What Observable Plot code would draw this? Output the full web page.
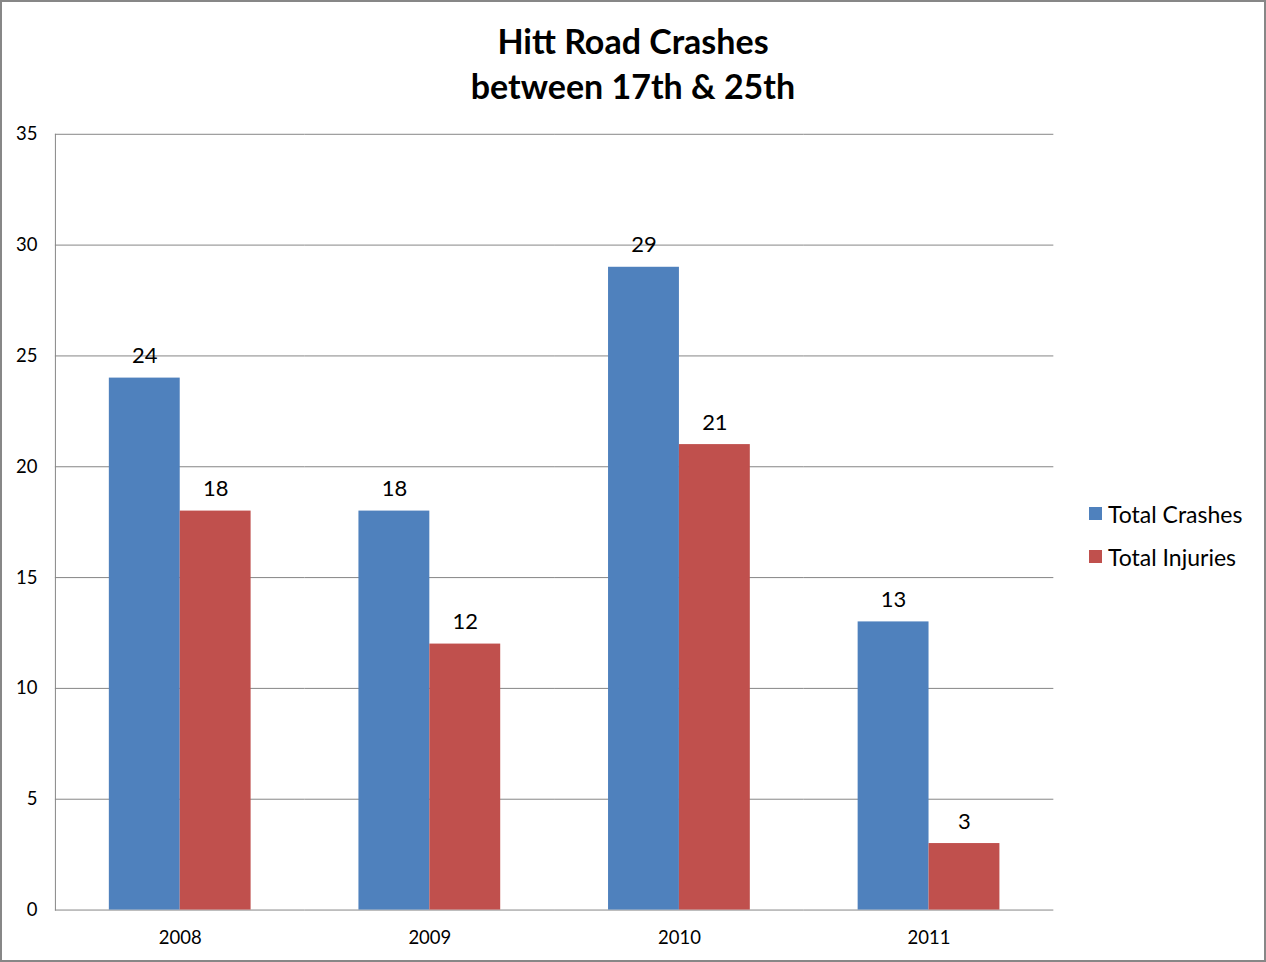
<!DOCTYPE html>
<html><head><meta charset="utf-8">
<script src="https://cdn.jsdelivr.net/npm/d3@7"></script>
<script src="https://cdn.jsdelivr.net/npm/@observablehq/plot@0.6"></script>
<style>
body{margin:0;background:#fff;}
#wrap{position:relative;width:1266px;height:962px;box-sizing:border-box;border:2px solid #878787;font-family:Lato,"Open Sans",sans-serif;overflow:hidden;}
#title{position:absolute;left:-2px;top:16px;width:1266px;text-align:center;font-weight:bold;font-size:34px;line-height:45px;color:#000;}
#chart{position:absolute;left:-2px;top:-2px;}
#legend{position:absolute;left:1087px;top:490px;font-size:23px;color:#000;}
.item{display:flex;align-items:center;height:43px;}
.sw{width:13px;height:13px;margin-right:6px;}
</style></head>
<body>
<div id="wrap">
  <div id="chart"></div>
  <div id="title">Hitt Road Crashes<br>between 17th &amp; 25th</div>
  <div id="legend"></div>
</div>
<script>
const years = ["2008", "2009", "2010", "2011"];
const series = ["Total Crashes", "Total Injuries"];
const crashes = [24, 18, 29, 13];
const injuries = [18, 12, 21, 3];
const yTicks = [0, 5, 10, 15, 20, 25, 30, 35];
const colors = ["#4F81BD", "#C0504D"];

const data = [];
years.forEach((yr, i) => {
  data.push({year: yr, series: series[0], value: crashes[i]});
  data.push({year: yr, series: series[1], value: injuries[i]});
});

const chart = Plot.plot({
  width: 1266,
  height: 962,
  marginLeft: 54,
  marginRight: 210,
  marginTop: 134,
  marginBottom: 51,
  style: {fontFamily: "Lato, 'Open Sans', sans-serif", background: "transparent", color: "#000"},
  fx: {domain: years, padding: 0, label: null},
  x: {domain: series, paddingInner: 0, paddingOuter: 0.76, axis: null},
  y: {domain: [0, 35], label: null},
  color: {domain: series, range: colors},
  marks: [
    Plot.ruleY(yTicks, {stroke: "#868686", strokeWidth: 1, strokeOpacity: 1}),
    Plot.axisY({ticks: yTicks, tickSize: 0, tickPadding: 18, fontSize: 18.5, label: null, fill: "#000"}),
    Plot.axisFx({anchor: "bottom", tickSize: 0, tickPadding: 21, fontSize: 18.5, label: null, fill: "#000"}),
    Plot.barY(data, {fx: "year", x: "series", y: "value", fill: "series"}),
    Plot.text(data, {fx: "year", x: "series", y: "value", text: d => String(d.value), lineAnchor: "bottom", dy: -15, fontSize: 22, fill: "#000"}),
    Plot.frame({anchor: "left", stroke: "#868686", fx: ["2008"]})
  ]
});
document.getElementById("chart").appendChild(chart);

const legend = document.getElementById("legend");
series.forEach((s, i) => {
  const it = document.createElement("div");
  it.className = "item";
  const sw = document.createElement("div");
  sw.className = "sw";
  sw.style.background = colors[i];
  const t = document.createElement("span");
  t.textContent = s;
  it.appendChild(sw);
  it.appendChild(t);
  legend.appendChild(it);
});
</script>
</body></html>
